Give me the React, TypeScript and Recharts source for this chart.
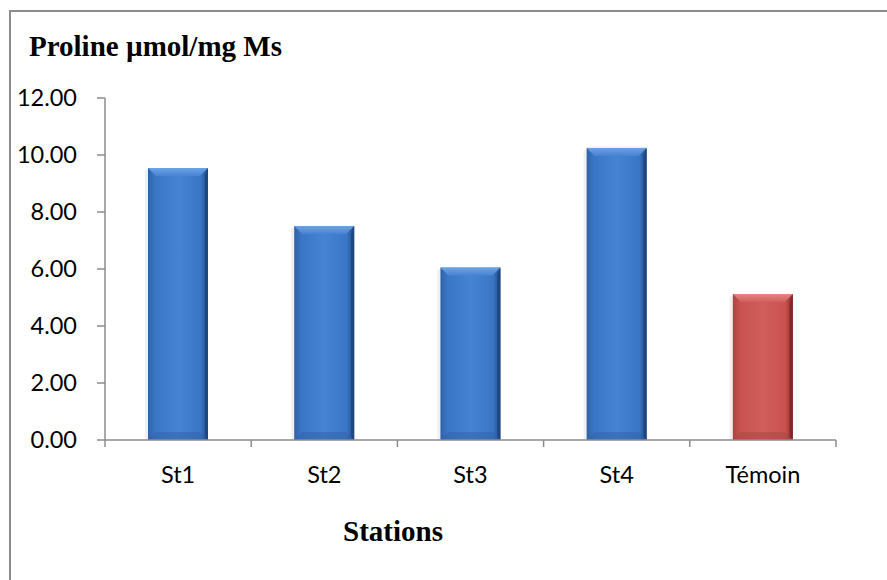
import React from 'react';
import { BarChart, Bar, XAxis, YAxis, Cell } from 'recharts';

const stations = ['St1', 'St2', 'St3', 'St4', 'Témoin'];
const proline = [9.54, 7.51, 6.05, 10.25, 5.12];
const yTicks = [0, 2, 4, 6, 8, 10, 12];
const controlName = 'Témoin';

const data = stations.map((name, i) => ({ name, value: proline[i] }));

const AXIS = '#8c8c8c';
const TICK_SIZE = 7;
const TICK_MARGIN = 19;
const TICK_FONT = 23.5;

const palettes: Record<string, { main: string; light: string; mid: string; dark: string; edge: string }> = {
  blue: { main: '#3a76c6', light: '#6da3e6', mid: '#4683d2', dark: '#1f477f', edge: '#2f62a6' },
  red: { main: '#c9524f', light: '#e58582', mid: '#d05e5b', dark: '#7f2b2a', edge: '#a94442' },
};

const BevelBar = (props: any) => {
  const { x, y, width, height, fill } = props;
  if (!height || height <= 0) return null;
  const p = palettes[fill] || palettes.blue;
  const b = 8;
  const id = `grad-${fill}`;
  const topId = `top-${fill}`;
  return (
    <g>
      <defs>
        <linearGradient id={id} x1="0" y1="0" x2="1" y2="0">
          <stop offset="0%" stopColor={p.edge} />
          <stop offset="12%" stopColor={p.main} />
          <stop offset="50%" stopColor={p.mid} />
          <stop offset="88%" stopColor={p.main} />
          <stop offset="100%" stopColor={p.dark} />
        </linearGradient>
        <linearGradient id={topId} x1="0" y1="0" x2="0" y2="1">
          <stop offset="0%" stopColor={p.light} />
          <stop offset="100%" stopColor={p.mid} />
        </linearGradient>
      </defs>
      <rect x={x - 3} y={y + 2} width={3} height={height - 2} fill="#000" opacity={0.06} />
      <rect x={x} y={y} width={width} height={height} fill={`url(#${id})`} />
      <polygon
        points={`${x},${y} ${x + width},${y} ${x + width - b},${y + b} ${x + b},${y + b}`}
        fill={`url(#${topId})`}
      />
      <polygon
        points={`${x + width},${y} ${x + width},${y + height} ${x + width - 3},${y + height - 3} ${x + width - 3},${y + b}`}
        fill={p.dark}
      />
      <polygon
        points={`${x},${y + height} ${x + width},${y + height} ${x + width - b},${y + height - b} ${x + b},${y + height - b}`}
        fill={p.edge}
        opacity={0.5}
      />
    </g>
  );
};

const StationTick = (props: any) => {
  const { x, y, payload, index, visibleTicksCount } = props;
  const half = payload && payload.offset ? payload.offset : 0;
  const y0 = y - TICK_SIZE - TICK_MARGIN;
  const isLast = index === visibleTicksCount - 1;
  return (
    <g>
      <line x1={x - half} y1={y0} x2={x - half} y2={y0 + TICK_SIZE} stroke={AXIS} strokeWidth={1.5} />
      {isLast && (
        <line x1={x + half} y1={y0} x2={x + half} y2={y0 + TICK_SIZE} stroke={AXIS} strokeWidth={1.5} />
      )}
      <text x={x} y={y} dy="0.71em" textAnchor="middle" fill="#000" fontFamily="Lato" fontSize={TICK_FONT}>
        {payload.value}
      </text>
    </g>
  );
};

export default function App() {
  return (
    <div style={{ position: 'absolute', left: 0, top: 0, width: 887, height: 580, background: '#fff', overflow: 'hidden' }}>
      <div
        style={{
          position: 'absolute',
          left: 9,
          top: 10,
          width: 900,
          height: 600,
          borderTop: `2px solid ${AXIS}`,
          borderLeft: `2px solid ${AXIS}`,
        }}
      />
      <div
        style={{
          position: 'absolute',
          left: 29,
          top: 32,
          fontFamily: '"Liberation Serif", serif',
          fontWeight: 'bold',
          fontSize: 29,
          lineHeight: 1,
          whiteSpace: 'nowrap',
        }}
      >
        Proline µmol/mg Ms
      </div>
      <div style={{ position: 'absolute', left: 0, top: 0 }}>
        <BarChart width={887} height={580} data={data} margin={{ top: 98, right: 51, left: 8, bottom: 80 }} barSize={60}>
          <XAxis
            dataKey="name"
            height={60}
            axisLine={{ stroke: AXIS, strokeWidth: 1.5 }}
            tickLine={{ stroke: 'none' }}
            tickSize={TICK_SIZE}
            tickMargin={TICK_MARGIN}
            tick={<StationTick />}
            interval={0}
          />
          <YAxis
            width={97}
            domain={[0, 12]}
            ticks={yTicks}
            tickFormatter={(v: number) => v.toFixed(2)}
            axisLine={{ stroke: AXIS, strokeWidth: 1.5 }}
            tickLine={{ stroke: AXIS, strokeWidth: 1.5 }}
            tickSize={8}
            tickMargin={20}
            tick={{ fill: '#000', fontFamily: 'Lato', fontSize: TICK_FONT }}
          />
          <Bar dataKey="value" shape={<BevelBar />} isAnimationActive={false}>
            {data.map((d) => (
              <Cell key={d.name} fill={d.name === controlName ? 'red' : 'blue'} />
            ))}
          </Bar>
        </BarChart>
      </div>
      <div
        style={{
          position: 'absolute',
          left: 293,
          top: 517,
          width: 200,
          textAlign: 'center',
          fontFamily: '"Liberation Serif", serif',
          fontWeight: 'bold',
          fontSize: 29,
          lineHeight: 1,
        }}
      >
        Stations
      </div>
    </div>
  );
}
